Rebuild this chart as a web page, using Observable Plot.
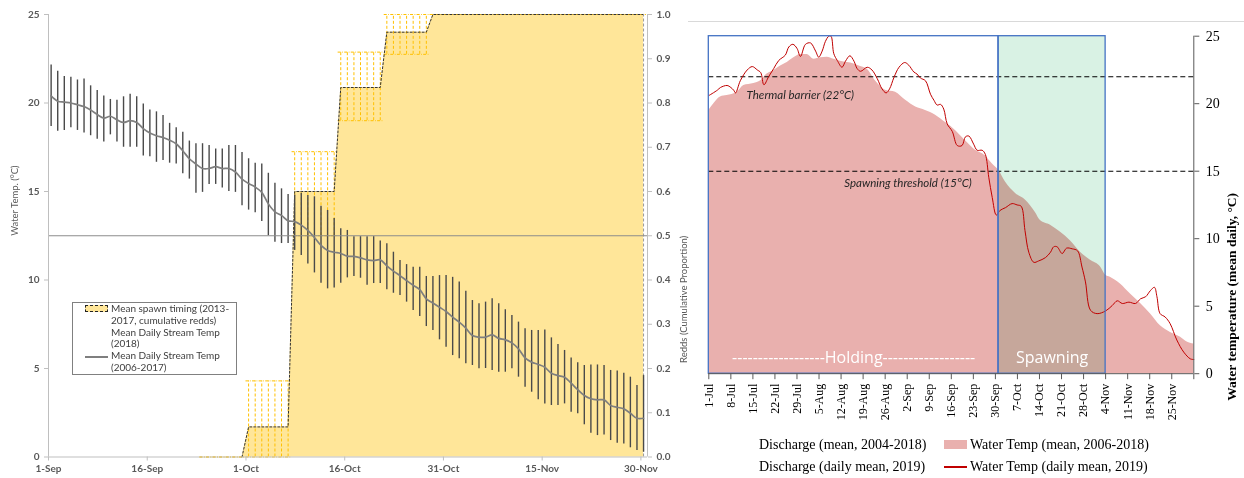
<!DOCTYPE html>
<html><head><meta charset="utf-8">
<script src="https://cdn.jsdelivr.net/npm/d3@7"></script>
<script src="https://cdn.jsdelivr.net/npm/@observablehq/plot@0.6"></script>
<style>
body{margin:0;background:#fff;width:1244px;height:478px;overflow:hidden;position:relative}
#left{position:absolute;left:0;top:0}
#right{position:absolute;left:688px;top:0}
.abs{position:absolute;white-space:nowrap}
.ll{font-family:Lato,sans-serif;font-size:10px;color:#404040;line-height:11.8px}
.rl{font-family:"Liberation Serif","Times New Roman",serif;font-size:14px;color:#000;line-height:16px}
</style></head><body>
<div id="left"></div><div id="right"></div>
<div class="abs" style="left:688px;top:21px;width:556px;height:1px;background:#d9d9d9"></div>
<div class="abs" style="left:72px;top:302px;width:163px;height:71px;border:1px solid #808080;background:#fff"></div>
<div class="abs" style="left:85px;top:305px;width:21px;height:5px;background:#FFE699;border:1px dashed #222"></div>
<div class="abs" style="left:85px;top:356px;width:23px;height:1.5px;background:#7f7f7f"></div>
<div class="abs ll" style="left:111px;top:303px">Mean spawn timing (2013-<br>2017, cumulative redds)<br>Mean Daily Stream Temp<br>(2018)<br>Mean Daily Stream Temp<br>(2006-2017)</div>
<div class="abs rl" style="left:759px;top:437px">Discharge (mean, 2004-2018)</div>
<div class="abs rl" style="left:759px;top:459px">Discharge (daily mean, 2019)</div>
<div class="abs" style="left:944px;top:440px;width:23px;height:9px;background:#E9B0AE"></div>
<div class="abs" style="left:944px;top:466px;width:23px;height:1.5px;background:#C00000"></div>
<div class="abs rl" style="left:970px;top:437px">Water Temp (mean, 2006-2018)</div>
<div class="abs rl" style="left:970px;top:459px">Water Temp (daily mean, 2019)</div>
<script>
// ================= LEFT CHART DATA =================
const leftTickDays = [0, 15, 30, 45, 60, 75, 90];
const leftTickLabels = ["1-Sep", "16-Sep", "1-Oct", "16-Oct", "31-Oct", "15-Nov", "30-Nov"];
const tempTicks = [0, 5, 10, 15, 20, 25];
const propTicks = [0, 0.1, 0.2, 0.3, 0.4, 0.5, 0.6, 0.7, 0.8, 0.9, 1.0];
const referenceProp = 0.5;

// Mean daily stream temp 2006-2017 (day 0 = 1-Sep)
const tempMean = [20.4,20.1,20.05,20.0,19.9,19.8,19.6,19.35,19.15,19.25,
  19.05,18.9,19.0,18.9,18.55,18.3,18.15,18.05,17.9,17.7,
  17.3,16.85,16.55,16.3,16.3,16.4,16.3,16.3,16.1,15.7,
  15.45,15.25,14.95,14.3,13.85,13.65,13.35,13.3,13.1,12.8,
  12.4,11.95,11.67,11.57,11.5,11.35,11.33,11.25,11.14,11.1,
  11.14,10.8,10.5,10.25,9.97,9.7,9.45,8.94,8.7,8.46,
  8.22,7.9,7.62,7.28,6.86,6.77,6.77,6.9,6.7,6.62,
  6.45,6.11,5.6,5.36,5.23,5.07,4.73,4.6,4.51,4.17,
  3.8,3.47,3.29,3.23,3.23,2.91,2.81,2.72,2.47,2.19,2.19];
const tempLow = [18.67,18.4,18.45,18.6,18.45,18.3,18.15,17.95,17.8,18.2,
  17.8,17.5,17.5,17.5,17.0,16.97,16.65,16.75,16.6,16.55,
  16.0,15.7,14.9,14.95,15.4,15.4,15.2,15.0,14.95,14.2,
  13.95,13.8,13.3,12.5,12.13,12.06,12.06,11.67,11.38,10.9,
  10.4,9.82,9.5,9.55,9.82,10.12,10.2,10.1,9.7,9.8,
  9.8,9.45,9.25,9.12,8.75,8.28,7.94,7.37,7.15,6.62,
  6.2,5.73,5.55,5.27,5.17,4.98,5.0,4.89,4.79,4.79,
  4.98,4.51,3.94,3.66,3.23,3.0,2.91,2.91,3.0,2.53,
  2.44,1.82,1.34,1.21,1.25,0.93,0.78,0.74,0.52,0.37,0.27];
const tempHigh = [22.15,21.8,21.5,21.45,21.3,21.35,20.97,20.7,20.4,20.2,
  20.15,20.35,20.5,20.35,19.95,19.6,19.5,19.3,18.85,18.6,
  18.35,17.85,17.7,17.7,17.6,17.4,17.4,17.6,17.6,17.2,
  16.85,16.6,16.55,16.03,15.47,15.15,14.83,14.8,14.9,14.77,
  14.7,14.17,13.93,13.47,12.9,12.8,12.45,12.45,12.45,12.45,
  12.2,12.05,11.57,11.1,10.87,10.72,10.72,10.2,10.2,10.25,
  10.25,10.15,9.88,9.37,8.84,8.66,8.75,8.94,8.66,8.32,
  8.0,7.62,7.24,7.15,7.15,7.18,6.73,6.36,6.02,5.6,
  5.32,5.17,5.2,5.2,5.17,4.89,4.86,4.73,4.51,4.04,4.6];

// Mean spawn timing (cumulative proportion), days 23..90
const spawnFirstDay = 23;
const spawnMean = [0,0,0,0,0,0,0,
  0.068,0.068,0.068,0.068,0.068,0.068,0.068,
  0.6,0.6,0.6,0.6,0.6,0.6,0.6,
  0.835,0.835,0.835,0.835,0.835,0.835,0.835,
  0.96,0.96,0.96,0.96,0.96,0.96,0.96,
  1,1,1,1,1,1,1,1,1,1,1,1,1,1,1,1,1,1,1,1,1,1,1,1,1,1,1,1,1,1,1,1,1];
const spawnLow = [0,0,0,0,0,0,0,
  0,0,0,0,0,0,0,
  0.5,0.5,0.5,0.5,0.5,0.5,0.5,
  0.76,0.76,0.76,0.76,0.76,0.76,0.76,
  0.91,0.91,0.91,0.91,0.91,0.91,0.91,
  1,1,1,1,1,1,1,1,1,1,1,1,1,1,1,1,1,1,1,1,1,1,1,1,1,1,1,1,1,1,1,1,1];
const spawnHigh = [0,0,0,0,0,0,0,
  0.172,0.172,0.172,0.172,0.172,0.172,0.172,
  0.69,0.69,0.69,0.69,0.69,0.69,0.69,
  0.915,0.915,0.915,0.915,0.915,0.915,0.915,
  1,1,1,1,1,1,1,
  1,1,1,1,1,1,1,1,1,1,1,1,1,1,1,1,1,1,1,1,1,1,1,1,1,1,1,1,1,1,1,1,1];

// ================= RIGHT CHART DATA =================
const rightTickDays = [0,7,14,21,28,35,42,49,56,63,70,77,84,91,98,105,112,119,126,133,140,147,154];
const rightTickLabels = ["1-Jul","8-Jul","15-Jul","22-Jul","29-Jul","5-Aug","12-Aug","19-Aug","26-Aug","2-Sep","9-Sep","16-Sep","23-Sep","30-Sep","7-Oct","14-Oct","21-Oct","28-Oct","4-Nov","11-Nov","18-Nov","25-Nov",""];
const rightYTicks = [0, 5, 10, 15, 20, 25];
const thresholds = [22, 15];
const thresholdLabels = ["Thermal barrier (22°C)", "Spawning threshold (15°C)"];
const phaseNames = ["------------------Holding------------------", "Spawning"];
const phaseStart = [0, 92];
const phaseEnd = [92, 126];

// Water temp mean 2006-2018 (day 0 = 1-Jul)
const wtMeanDay = [0,1.6,3.7,5.8,9,11.1,14.3,16.5,18.5,20.6,22.8,24.9,27,29.1,31.2,33.4,35.5,37.6,39.7,41.8,44,46.1,48.2,50.3,52.9,56.1,59.3,62.5,65.7,68.8,72,75.2,78.4,81.5,84.7,87.8,90,92.1,94.2,97.4,100.6,103.7,105.3,108.5,111.6,114.8,118,121.2,124.4,126,127.5,130.7,133.9,137.1,140.2,143.4,146.6,149.8,151.9,154];
const wtMeanVal = [19.5,20.0,20.5,20.6,20.85,21.35,21.5,21.7,22.2,22.45,22.8,23.05,23.4,23.65,23.65,23.3,23.4,23.45,23.3,23.15,23.05,22.95,22.75,22.55,21.7,21.0,20.85,20.25,19.75,19.5,19.15,18.6,18.0,17.25,16.55,16.15,15.55,15.05,14.2,13.35,12.85,11.95,11.35,11.0,10.5,9.85,9.0,8.4,7.9,7.3,7.15,6.65,5.9,5.2,4.45,3.55,3.05,2.7,2.35,2.2];

// Water temp daily mean 2019
const wt2019Day = [0,2.7,3.7,5.8,7,7.9,8.5,10,12.2,13.8,15.4,16.5,17.5,19,20.6,22.2,24.3,25.4,26.7,28,29.1,30.7,32.3,33.9,34.9,36,37,38.1,38.8,39.7,40.8,42.3,43.4,44.8,46.1,47.1,48.2,50.3,51.8,53.5,55,56.3,57.4,58.8,60.4,62.2,63.5,65.1,66.1,67.2,68.8,70.4,71.5,72.5,73.6,74.6,75.7,77.3,78.9,80.4,81.5,82.6,84.1,85.2,86.8,87.8,88.9,90,91.3,92.5,94.2,96.3,97.9,99.2,100.4,101.6,103.2,104.7,106.9,108.5,109.5,110.6,112.2,113.6,115.4,117.1,118.5,119.6,121.2,123.3,126,128.1,129.7,131.3,133.4,135.5,137.1,138.7,140.2,141.5,142.3,143.3,144.9,146.5,148.6,150.8,152.9,154];
const wt2019Val = [20.6,21.0,21.2,21.35,21.2,21.0,20.8,21.7,22.5,22.75,22.5,22.3,21.4,22.0,22.6,23.2,23.6,24.2,24.4,24.1,23.5,24.4,24.5,23.9,23.45,23.9,24.6,25.0,25.0,23.7,23.2,22.7,23.15,23.55,23.15,22.6,22.4,22.7,22.5,21.85,21.1,20.8,21.1,21.95,22.7,23.05,22.85,22.35,22.2,21.9,21.7,20.7,20.25,19.9,19.95,19.6,18.5,17.95,16.9,16.9,17.55,17.6,17.0,16.55,16.55,16.25,14.55,13.05,11.75,12.1,12.3,12.6,12.5,12.4,10.6,9.0,8.25,8.35,8.6,9.0,9.4,9.4,8.9,9.3,9.25,9.1,7.9,6.8,4.7,4.45,4.65,5.05,5.4,5.2,5.3,5.2,5.55,5.7,6.15,6.4,5.7,4.45,4.2,3.7,2.5,1.6,1.1,1.05];

// ================= BUILD LEFT =================
const S = 25;          // 1.0 on the right (proportion) axis == 25 on the left (°C) axis
const offset = 0.4;    // points sit slightly right of the date ticks, as in the source
const temp = tempMean.map((m, i) => ({day: i + offset, mean: m, low: tempLow[i], high: tempHigh[i]}));
const spawn = spawnMean.map((m, i) => ({day: spawnFirstDay + i + offset, mean: m * S, low: spawnLow[i] * S, high: spawnHigh[i] * S}));
const spawnActive = spawn.filter(d => d.day >= 29);

const left = Plot.plot({
  width: 700, height: 478,
  marginLeft: 48, marginRight: 53, marginTop: 14, marginBottom: 21.5,
  x: {domain: [0, 91]},
  y: {domain: [0, 25]},
  style: {fontFamily: "Lato, sans-serif", fontSize: "10px", color: "#595959", background: "transparent", overflow: "visible"},
  marks: [
    Plot.areaY(spawn, {x: "day", y: "mean", fill: "#FFE699"}),
    Plot.ruleX(spawn, {x: "day", y1: "low", y2: "high", stroke: "#FFC000", strokeWidth: 1, strokeDasharray: "3,2"}),
    Plot.ruleY(spawn, {x1: d => d.day - 0.4, x2: d => d.day + 0.4, y: "high", stroke: "#FFC000", strokeWidth: 1, strokeDasharray: "3,1.5"}),
    Plot.ruleY(spawn, {x1: d => d.day - 0.4, x2: d => d.day + 0.4, y: "low", stroke: "#FFC000", strokeWidth: 1, strokeDasharray: "3,1.5"}),
    Plot.lineY(spawnActive, {x: "day", y: "mean", stroke: "#333", strokeWidth: 1, strokeDasharray: "2,2"}),
    Plot.ruleX(spawn.slice(-1), {x: "day", y1: 0, y2: "mean", stroke: "#999", strokeDasharray: "3,2"}),
    Plot.ruleX(temp, {x: "day", y1: "low", y2: "high", stroke: "#4a4a4a", strokeWidth: 1.4}),
    Plot.lineY(temp, {x: "day", y: "mean", stroke: "#7f7f7f", strokeWidth: 1.7, curve: "catmull-rom"}),
    Plot.ruleY([referenceProp * S], {stroke: "#8c8c8c", strokeWidth: 1.2}),
    Plot.ruleX([0], {stroke: "#bfbfbf"}),
    Plot.ruleX([91], {stroke: "#bfbfbf"}),
    Plot.ruleY([0], {stroke: "#bfbfbf"}),
    Plot.axisY({anchor: "left", ticks: tempTicks, tickSize: 4, tickPadding: 5, stroke: "#bfbfbf", fill: "#595959", fontWeight: "bold", label: null}),
    Plot.axisY({anchor: "right", ticks: propTicks.map(p => p * S), tickFormat: d => (d / S).toFixed(1), tickSize: 4, tickPadding: 5, stroke: "#bfbfbf", fill: "#595959", fontWeight: "bold", label: null}),
    Plot.axisX({anchor: "bottom", ticks: leftTickDays, tickFormat: d => leftTickLabels[leftTickDays.indexOf(d)], tickSize: 4, tickPadding: 4, stroke: "#bfbfbf", fill: "#595959", fontWeight: "bold", label: null}),
    Plot.text(["Water Temp. (°C)"], {frameAnchor: "left", dx: -34, rotate: -90, fill: "#595959", fontSize: 9.5}),
    Plot.text(["Redds (Cumulative Proportion)"], {frameAnchor: "right", dx: 36, rotate: -90, fill: "#595959", fontSize: 9.5})
  ]
});
document.getElementById("left").append(left);

// ================= BUILD RIGHT =================
const wtMean = wtMeanDay.map((d, i) => ({day: d, t: wtMeanVal[i]}));
const wt2019 = wt2019Day.map((d, i) => ({day: d, t: wt2019Val[i]}));
const phases = phaseNames.map((n, i) => ({name: n, start: phaseStart[i], end: phaseEnd[i]}));

const right = Plot.plot({
  width: 556, height: 430,
  marginLeft: 20.3, marginRight: 50.7, marginTop: 35.7, marginBottom: 56.8,
  x: {domain: [0, 154]},
  y: {domain: [0, 25]},
  style: {fontFamily: "'Liberation Serif', 'Times New Roman', serif", fontSize: "13px", color: "#000", background: "transparent", overflow: "visible"},
  marks: [
    Plot.rect(phases.slice(1), {x1: "start", x2: "end", y1: 0, y2: 25, fill: "#D9F2E4"}),
    Plot.areaY(wtMean, {x: "day", y: "t", fill: "#E9B0AE", curve: "monotone-x", mixBlendMode: "multiply"}),
    Plot.ruleY(thresholds, {stroke: "#000", strokeWidth: 1.1, strokeDasharray: "5,3"}),
    Plot.lineY(wt2019, {x: "day", y: "t", stroke: "#C00000", strokeWidth: 1, curve: "catmull-rom"}),
    Plot.rect(phases, {x1: "start", x2: "end", y1: 0, y2: 25, fill: "none", stroke: "#4472C4", strokeWidth: 1.3}),
    Plot.text([thresholdLabels[0]], {x: 12, y: 20.6, textAnchor: "start", fontFamily: "Lato, sans-serif", fontStyle: "italic", fontSize: 11.5, fill: "#262626"}),
    Plot.text([thresholdLabels[1]], {x: 43, y: 14.1, textAnchor: "start", fontFamily: "Lato, sans-serif", fontStyle: "italic", fontSize: 11.5, fill: "#262626"}),
    Plot.text(phases, {x: d => (d.start + d.end) / 2, y: 1.2, text: "name", fill: "#fff", fontFamily: "'Open Sans', sans-serif", fontSize: 16}),
    Plot.ruleY([0], {stroke: "#595959"}),
    Plot.ruleX([154], {y1: 0, y2: 25, stroke: "#595959"}),
    Plot.axisX({anchor: "bottom", ticks: rightTickDays, tickFormat: d => rightTickLabels[rightTickDays.indexOf(d)], tickRotate: -90, tickSize: 6, tickPadding: 4, stroke: "#595959", fill: "#000", fontSize: 12, label: null}),
    Plot.axisY({anchor: "right", ticks: rightYTicks, tickSize: 5, tickPadding: 7, stroke: "#595959", fill: "#000", fontSize: 14, label: null}),
    Plot.text(["Water temperature (mean daily, °C)"], {frameAnchor: "right", dx: 38, dy: -12, rotate: -90, fontWeight: "bold", fontSize: 13.5, fill: "#000"})
  ]
});
document.getElementById("right").append(right);
</script>
</body></html>
